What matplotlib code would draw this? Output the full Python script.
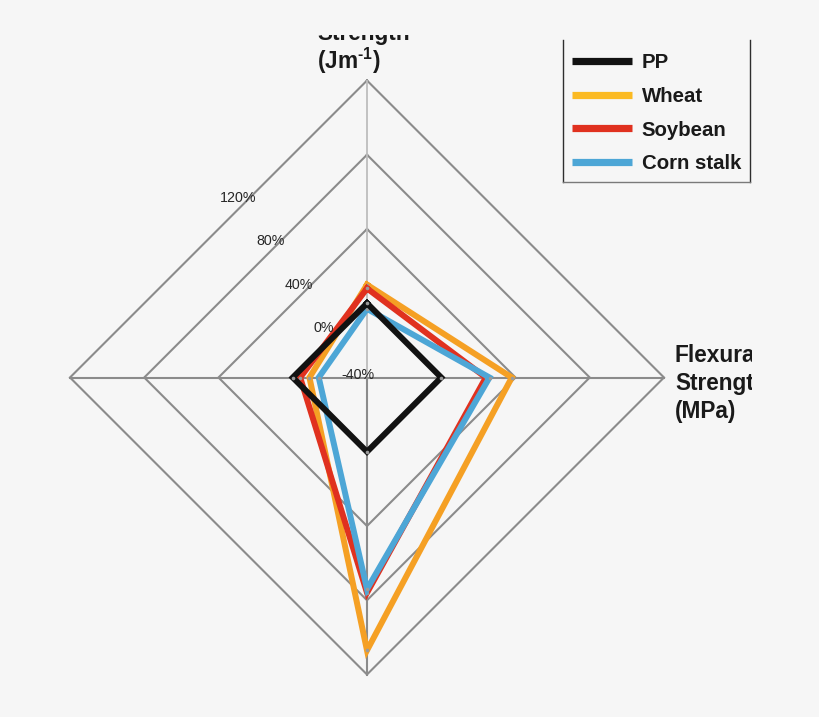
import numpy as np
import matplotlib
matplotlib.use('Agg')
import matplotlib.pyplot as plt
from matplotlib.transforms import Bbox, IdentityTransform
from matplotlib.lines import Line2D

plt.rcParams['font.family'] = ['Liberation Sans', 'DejaVu Sans']
plt.rcParams['mathtext.fontset'] = 'custom'
plt.rcParams['mathtext.rm'] = 'Liberation Sans:bold'
plt.rcParams['mathtext.bf'] = 'Liberation Sans:bold'
plt.rcParams['mathtext.it'] = 'Liberation Sans:bold'

# ---------------- data ----------------
categories = ["Impact Strength", "Flexural Strength", "Axis 3", "Axis 4"]
series_names = ["PP", "Wheat", "Soybean", "Corn stalk"]
pp = [0, 0, 0, 0]
wheat = [10, 38, 107, -9]
soybean = [8, 24, 76, -4]
corn_stalk = [-3, 26, 74, -14]
ring_levels = [0, 40, 80, 120]
r_min, r_max = -40, 120
tick_labels = ["-40%", "0%", "40%", "80%", "120%"]
top_label_lines = ["Strength", r"(Jm$^{\text{-1}}$)"]
right_label_lines = ["Flexural", "Strength", "(MPa)"]

# ---------------- style ----------------
W, H = 820, 717
bg = '#f6f6f6'
grid_c = '#8b8b8b'
colors = {"PP": '#121212', "Wheat": '#f5a024', "Soybean": '#e0311f', "Corn stalk": '#4da6d6'}

fig = plt.figure(figsize=(W / 100, H / 100), dpi=100, facecolor=bg)
cx, cy, R = 367, 377.5, 297
ax = fig.add_axes([(cx - R) / W, (H - cy - R) / H, 2 * R / W, 2 * R / H], projection='polar')
ax.set_theta_zero_location('N')
ax.set_theta_direction(-1)
ax.set_ylim(r_min, r_max)
ax.grid(False)
ax.set_xticks([])
ax.set_yticks([])
ax.spines['polar'].set_visible(False)
ax.patch.set_alpha(0)

theta = np.arange(len(categories)) * 2 * np.pi / len(categories)
theta_c = np.append(theta, theta[0])

for lv in ring_levels:
    ax.plot(theta_c, [lv] * (len(categories) + 1), color=grid_c, lw=1.5,
            clip_on=False, zorder=1, solid_joinstyle='miter')
for i, th in enumerate(theta):
    ax.plot([th, th], [r_min, r_max], color='#bdbdbd' if i == 0 else grid_c,
            lw=1.3 if i == 0 else 1.5, clip_on=False, zorder=1)

data = {"PP": pp, "Wheat": wheat, "Soybean": soybean, "Corn stalk": corn_stalk}
draw_order = ["Wheat", "Soybean", "Corn stalk", "PP"]
handles = {}
for z, name in enumerate(draw_order):
    vals = data[name]
    v = np.append(vals, vals[0])
    ln, = ax.plot(theta_c, v, color=colors[name], lw=4.3, solid_joinstyle='miter',
                  zorder=3 + z, label=name, clip_on=False)
    ax.plot(theta, vals, linestyle='none', marker='o', ms=2.6, mfc='#9a9a9a',
            mec='none', zorder=3 + z, clip_on=False)
    handles[name] = ln

clip = Bbox.from_extents(0, 0, 752, H - 35)

leg = ax.legend([handles[n] for n in series_names], series_names, loc='lower left',
                bbox_to_anchor=(563 / W, (H - 182) / H), bbox_transform=fig.transFigure,
                borderaxespad=0, frameon=True, fancybox=False, edgecolor='none',
                facecolor=bg, framealpha=1, prop={'weight': 'bold', 'size': 14.7},
                handlelength=2.94, handletextpad=0.49, borderpad=0.43, labelspacing=0.72)
leg_colors = {"PP": '#121212', "Wheat": '#fbba22', "Soybean": '#e0311f', "Corn stalk": '#4da6d6'}
for ln, name in zip(leg.get_lines(), series_names):
    ln.set_linewidth(5.2)
    ln.set_color(leg_colors[name])
    ln.set_solid_capstyle('butt')
for t in leg.get_texts():
    t.set_color('#1a1a1a')

# legend border: the top edge lies outside the visible (cropped) area
fig.canvas.draw()
bb = leg.get_window_extent()
top_vis = H - 40
for xs, ys, c in [([bb.x0, bb.x0], [bb.y0, top_vis], '#2e2e2e'),
                  ([bb.x1, bb.x1], [bb.y0, top_vis], '#2e2e2e'),
                  ([bb.x0, bb.x1], [bb.y0, bb.y0], '#7a7a7a')]:
    fig.add_artist(Line2D(xs, ys, transform=IdentityTransform(), color=c, lw=1.0, zorder=10))

def ftext(x, y, s, **kw):
    t = fig.text(x / W, 1 - y / H, s, **kw)
    t.set_clip_box(clip)
    t.set_clip_on(True)
    return t

# tick labels
tick_pos = [(341.7, 375), (314, 328), (285, 285), (256, 240.7), (220, 198)]
for (x, y), s in zip(tick_pos, tick_labels):
    ftext(x, y, s, ha='left', va='center', fontsize=10.3, color='#262626')

# axis labels
for s, yb in zip(top_label_lines, [40, 69]):
    ftext(317, yb, s, ha='left', va='baseline', fontsize=16.3, fontweight='bold', color='#1a1a1a')
for s, yb in zip(right_label_lines, [361.7, 390, 418]):
    ftext(675, yb, s, ha='left', va='baseline', fontsize=16.3, fontweight='bold', color='#1a1a1a')

fig.savefig('out.png', dpi=100, facecolor=bg)
